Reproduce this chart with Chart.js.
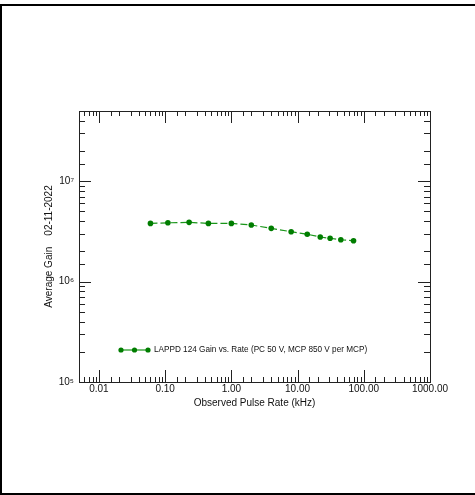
<!DOCTYPE html>
<html>
<head>
<meta charset="utf-8">
<script src="https://cdn.jsdelivr.net/npm/chart.js@4.4.0/dist/chart.umd.min.js"></script>
<style>
  body { margin: 0; background: #fff; }
  canvas { display: block; }
</style>
</head>
<body>
<canvas id="chart" width="475" height="495"></canvas>
<script>
// Observed pulse rate (kHz) and average gain
const rates = [0.06, 0.11, 0.23, 0.45, 1.0, 2.0, 4.0, 8.0, 14, 22, 31, 45, 70];
const gains = [3.80e6, 3.85e6, 3.89e6, 3.80e6, 3.80e6, 3.66e6, 3.39e6, 3.14e6, 2.96e6, 2.78e6, 2.70e6, 2.61e6, 2.55e6];
const seriesLabel = 'LAPPD 124 Gain vs. Rate (PC 50 V, MCP 850 V per MCP)';
const xTitle = 'Observed Pulse Rate (kHz)';
const yTitle = 'Average Gain    02-11-2022';
const supers = { '-': '\u207B', '0': '\u2070', '1': '\u00B9', '2': '\u00B2', '3': '\u00B3', '4': '\u2074', '5': '\u2075', '6': '\u2076', '7': '\u2077', '8': '\u2078', '9': '\u2079' };

const FONT = 'Liberation Sans, Arial, Helvetica, sans-serif';
const lineColor = '#1a961a';
const dotColor = '#007d00';

function isDecade(v) {
    const l = Math.log10(v);
    return Math.abs(l - Math.round(l)) < 1e-6;
}

// frame, plot box, inward ticks and the legend
const decorPlugin = {
    id: 'decor',
    afterDraw(chart) {
        const ctx = chart.ctx;
        const a = chart.chartArea;
        const xs = chart.scales.x;
        const ys = chart.scales.y;
        ctx.save();
        // outer frame
        ctx.strokeStyle = '#000';
        ctx.lineWidth = 2;
        ctx.strokeRect(1, 5, 480, 489);
        // plot box
        ctx.lineWidth = 1;
        ctx.strokeStyle = '#222';
        ctx.strokeRect(Math.round(a.left) + 0.5, Math.round(a.top) + 0.5,
            Math.round(a.right - a.left), Math.round(a.bottom - a.top));
        ctx.beginPath();
        xs.ticks.forEach(t => {
            const px = Math.round(xs.getPixelForValue(t.value)) + 0.5;
            if (px <= a.left + 1 || px >= a.right - 1) return;
            const len = isDecade(t.value) ? 12 : 5;
            ctx.moveTo(px, a.bottom); ctx.lineTo(px, a.bottom - len);
            ctx.moveTo(px, a.top); ctx.lineTo(px, a.top + len);
        });
        ys.ticks.forEach(t => {
            const py = Math.round(ys.getPixelForValue(t.value)) + 0.5;
            if (py <= a.top + 1 || py >= a.bottom - 1) return;
            const len = isDecade(t.value) ? 12 : 6;
            ctx.moveTo(a.left, py); ctx.lineTo(a.left + len, py);
            ctx.moveTo(a.right, py); ctx.lineTo(a.right - len, py);
        });
        ctx.stroke();
        // legend
        const lx0 = 121, lx1 = 148, ly = 350;
        ctx.strokeStyle = lineColor;
        ctx.lineWidth = 1.2;
        ctx.beginPath();
        ctx.moveTo(lx0, ly); ctx.lineTo(lx1, ly);
        ctx.stroke();
        ctx.fillStyle = dotColor;
        [lx0, (lx0 + lx1) / 2, lx1].forEach(x => {
            ctx.beginPath();
            ctx.arc(x, ly, 2.6, 0, Math.PI * 2);
            ctx.fill();
        });
        ctx.fillStyle = '#111';
        ctx.font = '8.2px ' + FONT;
        ctx.textBaseline = 'middle';
        ctx.fillText(seriesLabel, 154, ly);
        ctx.restore();
    }
};

new Chart(document.getElementById('chart'), {
    type: 'scatter',
    data: {
        datasets: [{
            label: seriesLabel,
            data: rates.map((r, i) => ({ x: r, y: gains[i] })),
            showLine: true,
            borderColor: lineColor,
            borderWidth: 1.2,
            borderDash: [7, 3],
            pointRadius: 2.8,
            pointHoverRadius: 2.8,
            pointBackgroundColor: dotColor,
            pointBorderColor: dotColor,
            pointBorderWidth: 0
        }]
    },
    plugins: [decorPlugin],
    options: {
        responsive: false,
        animation: false,
        layout: {
            padding: { left: 39, top: 111, right: 45, bottom: 81 }
        },
        plugins: {
            legend: { display: false },
            tooltip: { enabled: false }
        },
        scales: {
            x: {
                type: 'logarithmic',
                min: 0.005,
                max: 1000,
                afterFit: s => { s.height = 32; },
                grid: { display: false, drawTicks: false },
                border: { display: false },
                ticks: {
                    autoSkip: false,
                    maxRotation: 0,
                    padding: 1,
                    color: '#111',
                    font: { family: FONT, size: 10 },
                    callback: v => isDecade(v) ? Number(v).toFixed(2) : ''
                },
                title: {
                    display: true,
                    text: xTitle,
                    color: '#111',
                    font: { family: FONT, size: 10 },
                    padding: { top: 0, bottom: 5 }
                }
            },
            y: {
                type: 'logarithmic',
                min: 1e5,
                max: 5e7,
                afterFit: s => { s.width = 40; },
                grid: { display: false, drawTicks: false },
                border: { display: false },
                ticks: {
                    autoSkip: false,
                    padding: 5,
                    color: '#111',
                    font: { family: FONT, size: 10 },
                    callback: v => {
                        if (!isDecade(v)) return '';
                        const e = String(Math.round(Math.log10(v)));
                        return '10' + e.split('').map(c => supers[c]).join('');
                    }
                },
                title: {
                    display: true,
                    text: yTitle,
                    color: '#111',
                    font: { family: FONT, size: 10 },
                    padding: { top: 4, bottom: 0 }
                }
            }
        }
    }
});
</script>
</body>
</html>
